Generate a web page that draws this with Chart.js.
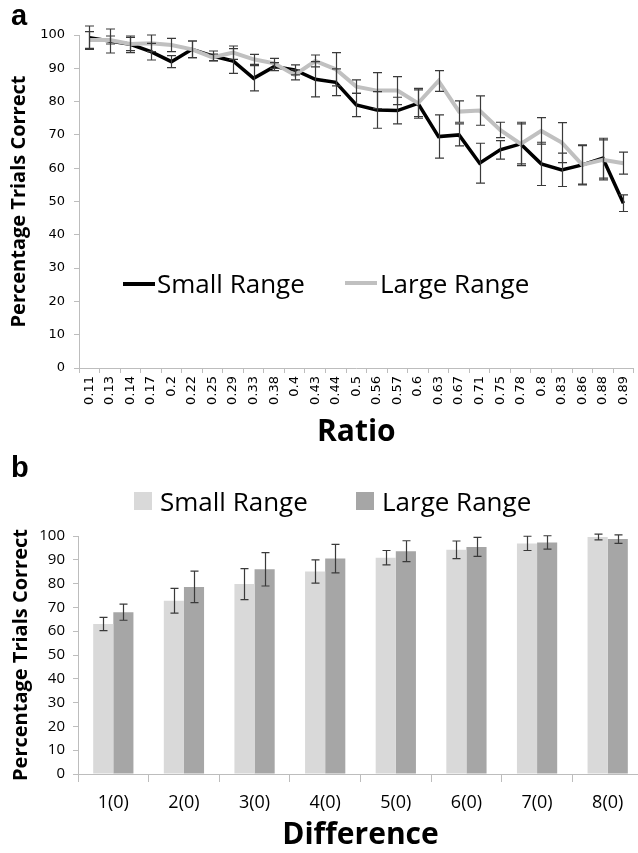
<!DOCTYPE html>
<html>
<head>
<meta charset="utf-8">
<script src="https://cdn.jsdelivr.net/npm/chart.js@4.4.1/dist/chart.umd.min.js"></script>
<style>
  html, body { margin: 0; padding: 0; background: #fff; overflow: hidden; width: 638px; height: 853px; }
  .wrap  { position: relative; width: 638px; height: 853px; }
  canvas { position: absolute; left: 0; }
  #topChart { top: 0; }
  #botChart { top: 460px; }
  .panel { position: absolute; left: 11px; font: bold 29px "Liberation Sans", Arial, sans-serif; color: #000; }
  .legend { position: absolute; font: 26px "Open Sans", sans-serif; color: #000; white-space: nowrap; }
  .legend span { position: absolute; top: 0; }
  .legend i { position: absolute; display: block; }
</style>
</head>
<body>
<div class="wrap">
  <canvas id="topChart" width="642" height="460"></canvas>
  <canvas id="botChart" width="643" height="393"></canvas>
  <div class="panel" style="top:-1px">a</div>
  <div class="panel" style="top:451px">b</div>
  <div class="legend" id="topLegend"></div>
  <div class="legend" id="botLegend"></div>
</div>
<script>
/* ── Panel a: percentage correct by ratio ─────────── */

const ratioLabels = ['0.11', '0.13', '0.14', '0.17', '0.2', '0.22', '0.25', '0.29', '0.33', '0.38',
                     '0.4', '0.43', '0.44', '0.5', '0.56', '0.57', '0.6', '0.63', '0.67', '0.71',
                     '0.75', '0.78', '0.8', '0.83', '0.86', '0.88', '0.89'];

const smallByRatio = [99.2, 98.2, 97.2, 95.0, 92.0, 95.7, 93.7, 92.2, 87.0, 90.5,
                      89.5, 86.7, 85.8, 79.0, 77.5, 77.3, 79.5, 69.5, 70.0, 61.5,
                      65.5, 67.3, 61.3, 59.5, 61.0, 63.0, 49.5];
const smallByRatioErr = [3.5, 3.6, 2.5, 2.5, 1.8, 2.5, 1.5, 3.7, 3.8, 1.2,
                         1.5, 5.3, 4.0, 3.5, 5.5, 4.0, 4.5, 6.5, 3.3, 6.0,
                         2.8, 6.0, 6.5, 5.0, 6.0, 6.0, 2.5];

const largeByRatio = [98.5, 98.5, 97.3, 97.5, 97.0, 95.7, 93.3, 94.7, 92.7, 91.5,
                      88.0, 92.2, 89.7, 84.5, 83.3, 83.3, 79.5, 86.2, 77.0, 77.3,
                      71.5, 67.3, 71.2, 67.7, 61.0, 62.5, 61.5];
const largeByRatioErr = [2.5, 1.2, 2.0, 2.5, 2.0, 2.5, 1.0, 2.0, 1.5, 1.5,
                         1.5, 1.8, 5.0, 2.0, 5.4, 4.2, 4.0, 3.1, 3.2, 4.4,
                         2.3, 6.5, 4.0, 6.0, 5.8, 6.0, 3.3];

/* ── Panel b: percentage correct by difference ────── */

const diffLabels = ['1(0)', '2(0)', '3(0)', '4(0)', '5(0)', '6(0)', '7(0)', '8(0)'];

const smallByDiff    = [63.0, 72.8, 79.8, 85.1, 90.9, 94.2, 96.9, 99.6];
const smallByDiffErr = [2.8, 5.2, 6.5, 4.9, 3.0, 3.7, 3.0, 1.2];
const largeByDiff    = [68.0, 78.6, 86.0, 90.5, 93.6, 95.4, 97.3, 98.7];
const largeByDiffErr = [3.4, 6.6, 7.0, 6.0, 4.4, 4.0, 2.8, 1.8];

const seriesNames = ['Small Range', 'Large Range'];

const yTicks = { min: 0, max: 100, step: 10 };

/* ── Error bars plugin ───────────────────────────── */

const errorBars = {
  id: 'errorBars',
  afterDatasetsDraw(chart, args, opts) {
    const { ctx, scales: { y } } = chart;
    ctx.save();
    ctx.strokeStyle = opts.color || '#333';
    ctx.lineWidth   = opts.width || 1.2;
    chart.data.datasets.forEach((ds, di) => {
      const meta = chart.getDatasetMeta(di);
      (ds.errors || []).forEach((e, i) => {
        const pt = meta.data[i];
        if (!pt) return;
        const x  = Math.round(pt.x) + 0.5;
        const hi = y.getPixelForValue(ds.data[i] + e);
        const lo = y.getPixelForValue(ds.data[i] - e);
        const c  = opts.cap || 4;
        ctx.beginPath();
        ctx.moveTo(x, hi); ctx.lineTo(x, lo);
        ctx.moveTo(x - c, hi); ctx.lineTo(x + c, hi);
        ctx.moveTo(x - c, lo); ctx.lineTo(x + c, lo);
        ctx.stroke();
      });
    });
    ctx.restore();
  },
};

const axisGray = '#bdbdbd';

/* ── Top chart ───────────────────────────────────── */

new Chart(document.getElementById('topChart'), {
  type: 'line',
  plugins: [errorBars],
  data: {
    labels: ratioLabels,
    datasets: [
      { label: seriesNames[0], data: smallByRatio, errors: smallByRatioErr,
        borderColor: '#000', borderWidth: 3.5, pointRadius: 0, tension: 0, order: 1 },
      { label: seriesNames[1], data: largeByRatio, errors: largeByRatioErr,
        borderColor: '#c0c0c0', borderWidth: 4, pointRadius: 0, tension: 0, order: 0 },
    ],
  },
  options: {
    responsive: false,
    animation: false,
    layout: { padding: { top: 35, left: 0, right: 0, bottom: 0 } },
    scales: {
      x: {
        offset: true,
        grid:   { offset: true, drawOnChartArea: false, drawTicks: true, tickLength: 5, color: axisGray },
        border: { color: axisGray, width: 1 },
        ticks:  { color: '#000', font: { family: 'DejaVu Sans', size: 13 }, minRotation: 90, maxRotation: 90,
                  autoSkip: false, padding: 3 },
        title:  { display: true, text: 'Ratio', color: '#000',
                  font: { family: 'Open Sans', size: 30, weight: 'bold' }, padding: { top: 0, bottom: 10 } },
        afterFit: s => { s.height = 92; },
      },
      y: {
        min: yTicks.min, max: yTicks.max,
        grid:   { drawOnChartArea: false, drawTicks: true, tickLength: 5, color: axisGray },
        border: { color: axisGray, width: 1 },
        ticks:  { stepSize: yTicks.step, color: '#000', font: { family: 'DejaVu Sans', size: 13 }, padding: 9 },
        title:  { display: true, text: 'Percentage Trials Correct', color: '#000',
                  font: { family: 'Open Sans', size: 20, weight: 'bold' }, padding: { top: 7, bottom: 0 } },
        afterFit: s => { s.width = 79; },
      },
    },
    plugins: {
      legend:  { display: false },
      tooltip: { enabled: false },
      errorBars: { color: '#3a3a3a', width: 1.2, cap: 4.5 },
    },
  },
});

/* ── Bottom chart ────────────────────────────────── */

new Chart(document.getElementById('botChart'), {
  type: 'bar',
  plugins: [errorBars],
  data: {
    labels: diffLabels,
    datasets: [
      { label: seriesNames[0], data: smallByDiff, errors: smallByDiffErr, backgroundColor: '#d9d9d9' },
      { label: seriesNames[1], data: largeByDiff, errors: largeByDiffErr, backgroundColor: '#a6a6a6' },
    ],
  },
  options: {
    responsive: false,
    animation: false,
    layout: { padding: { top: 76, left: 0, right: 0, bottom: 0 } },
    datasets: { bar: { barPercentage: 1, categoryPercentage: 0.57 } },
    scales: {
      x: {
        grid:   { offset: true, drawOnChartArea: false, drawTicks: true, tickLength: 8, color: axisGray },
        border: { color: axisGray, width: 1 },
        ticks:  { color: '#000', font: { family: 'Open Sans', size: 18 }, padding: 10, maxRotation: 0 },
        title:  { display: true, text: 'Difference', color: '#000',
                  font: { family: 'Open Sans', size: 30, weight: 'bold' }, padding: { top: 0, bottom: 0 } },
        afterFit: s => { s.height = 79; },
      },
      y: {
        min: yTicks.min, max: yTicks.max,
        grid:   { drawOnChartArea: false, drawTicks: true, tickLength: 5, color: axisGray },
        border: { color: axisGray, width: 1 },
        ticks:  { stepSize: yTicks.step, color: '#000', font: { family: 'Open Sans', size: 15 }, padding: 8 },
        title:  { display: true, text: 'Percentage Trials Correct', color: '#000',
                  font: { family: 'Open Sans', size: 20, weight: 'bold' }, padding: { top: 9, bottom: 0 } },
        afterFit: s => { s.width = 78; },
      },
    },
    plugins: {
      legend:  { display: false },
      tooltip: { enabled: false },
      errorBars: { color: '#3a3a3a', width: 1.2, cap: 4 },
    },
  },
});

/* ── HTML legends ────────────────────────────────── */

function buildLegend(el, items) {
  el.innerHTML = items.map(it =>
    `<i style="left:${it.mx}px;top:${it.my}px;width:${it.mw}px;height:${it.mh}px;background:${it.color}"></i>` +
    `<span style="left:${it.tx}px;top:${it.ty}px">${it.name}</span>`
  ).join('');
}

buildLegend(document.getElementById('topLegend'), [
  { name: seriesNames[0], color: '#000',    mx: 123, my: 282, mw: 32, mh: 3.5, tx: 157, ty: 265 },
  { name: seriesNames[1], color: '#c0c0c0', mx: 345, my: 281, mw: 32, mh: 4,   tx: 380, ty: 265 },
]);

buildLegend(document.getElementById('botLegend'), [
  { name: seriesNames[0], color: '#d9d9d9', mx: 134, my: 492, mw: 18, mh: 18, tx: 160, ty: 483 },
  { name: seriesNames[1], color: '#a6a6a6', mx: 356, my: 492, mw: 18, mh: 18, tx: 382, ty: 483 },
]);
</script>
</body>
</html>
